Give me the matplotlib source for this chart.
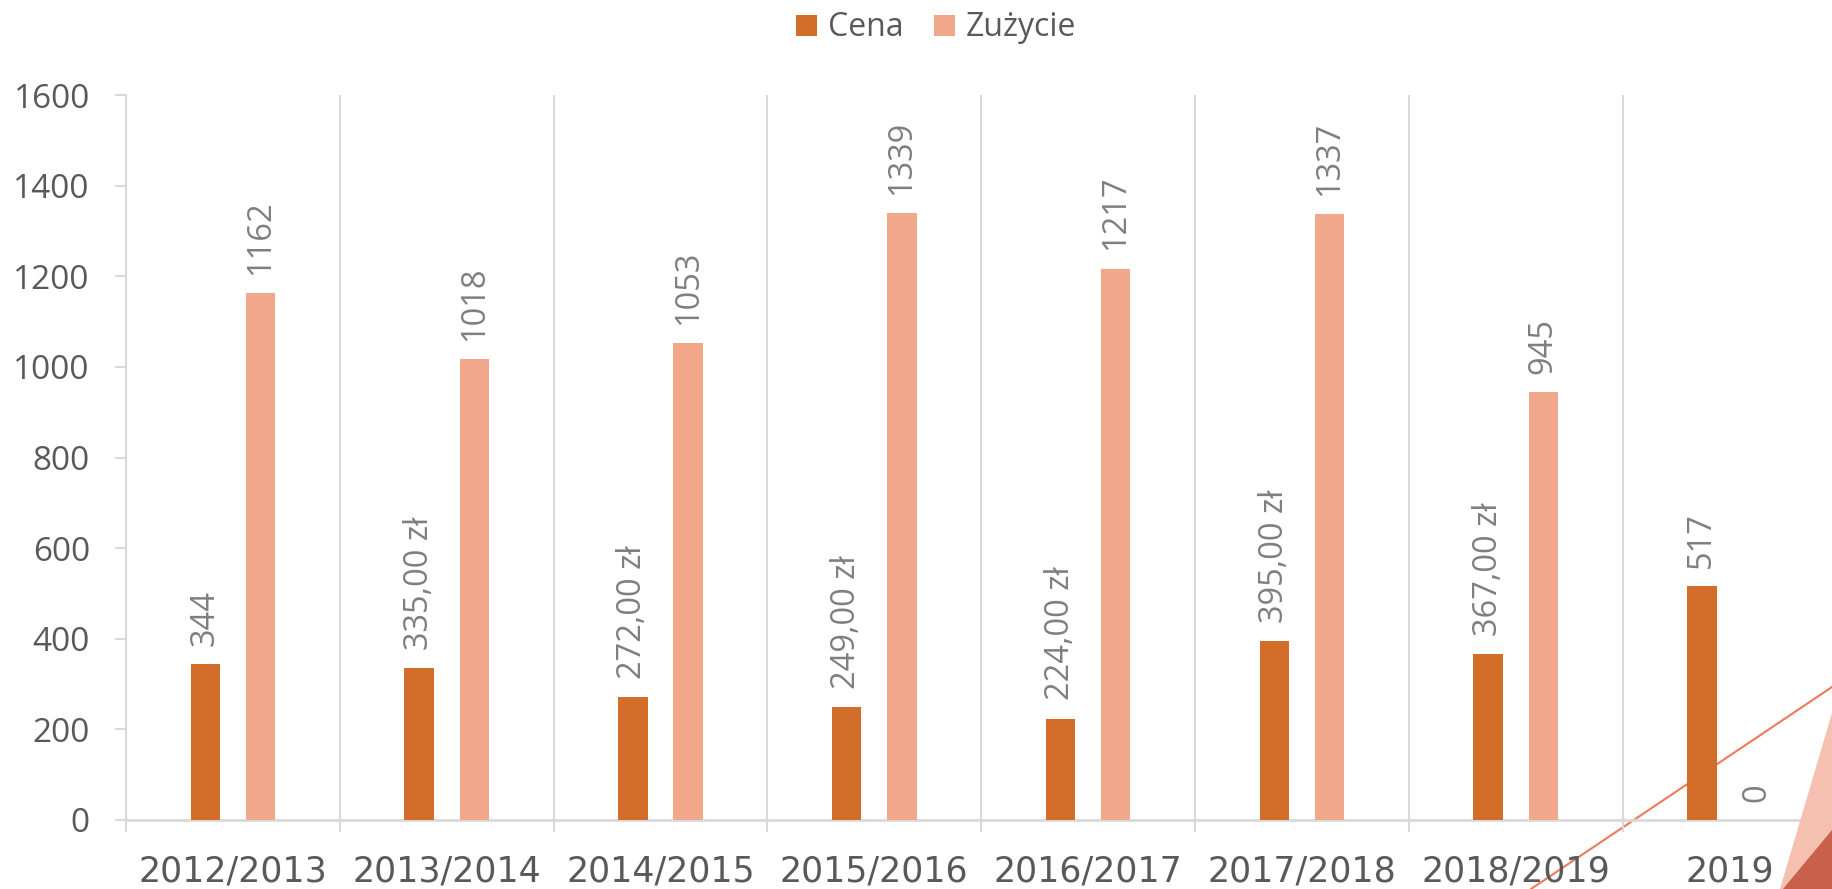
import numpy as np
import matplotlib.pyplot as plt
from matplotlib.patches import Polygon
from matplotlib.lines import Line2D

plt.rcParams['font.family'] = ['Open Sans', 'DejaVu Sans']

categories = ['2012/2013', '2013/2014', '2014/2015', '2015/2016',
              '2016/2017', '2017/2018', '2018/2019', '2019']
cena = [344, 335, 272, 249, 224, 395, 367, 517]
zuzycie = [1162, 1018, 1053, 1339, 1217, 1337, 945, 0]
cena_labels = ['344', '335,00 zł', '272,00 zł', '249,00 zł',
               '224,00 zł', '395,00 zł', '367,00 zł', '517']
yticks = [0, 200, 400, 600, 800, 1000, 1200, 1400, 1600]

c_cena = '#d26e2a'
c_zuz = '#f0a78a'
grid_c = '#d9d9d9'
text_c = '#595959'
label_c = '#7f7f7f'

W, H = 1832, 889
fig = plt.figure(figsize=(W / 100, H / 100), dpi=100)
ax = fig.add_axes([126 / W, 1 - 820 / H, 8 * 213.8 / W, (820 - 95) / H])
ax.patch.set_alpha(0)

x = np.arange(len(categories))
bw = 0.137
off = 0.129
b1 = ax.bar(x - off, cena, bw, color=c_cena, label='Cena', zorder=3)
b2 = ax.bar(x + off, zuzycie, bw, color=c_zuz, label='Zużycie', zorder=3)

for rect, txt in zip(b1, cena_labels):
    ax.annotate(txt, (rect.get_x() + rect.get_width() / 2, rect.get_height()),
                xytext=(0, 13), textcoords='offset points', rotation=90,
                ha='center', va='bottom', color=label_c, fontsize=23.5)
for rect, v in zip(b2, zuzycie):
    ax.annotate(str(v), (rect.get_x() + rect.get_width() / 2, rect.get_height()),
                xytext=(0, 13), textcoords='offset points', rotation=90,
                ha='center', va='bottom', color=label_c, fontsize=23.5)

ax.set_xlim(-0.5, len(categories) - 0.5)
ax.set_ylim(0, 1600)
ax.set_yticks(yticks)
ax.set_xticks(x)
ax.set_xticklabels(categories, family=['DejaVu Sans'])
ax.set_xticks(np.arange(len(categories) + 1) - 0.5, minor=True)

for s in ['top', 'right']:
    ax.spines[s].set_visible(False)
ax.spines['left'].set_color(grid_c)
ax.spines['left'].set_linewidth(1.5)
ax.spines['bottom'].set_color(grid_c)
ax.spines['bottom'].set_linewidth(2)

ax.tick_params(axis='y', length=8, width=1.5, color=grid_c, labelcolor=text_c,
               labelsize=24, pad=18)
ax.tick_params(axis='x', which='major', length=0, labelcolor=text_c,
               labelsize=25, pad=25)
ax.tick_params(axis='x', which='minor', length=8.6, width=1.5, color=grid_c)
ax.grid(axis='x', which='minor', color=grid_c, linewidth=1.5, zorder=0)

fig.legend(handles=[b1, b2], labels=['Cena', 'Zużycie'], loc='center',
           bbox_to_anchor=(936 / W, 1 - 28 / H), ncol=2, frameon=False,
           fontsize=23, handlelength=0.65, handleheight=0.65,
           handletextpad=0.34, columnspacing=0.97, labelcolor=text_c)

# slide decoration in the corner
fig.add_artist(Line2D([1531 / W, 1.0], [0.0, 1 - 687 / H], color='#ee7a5a',
                      linewidth=1.5, zorder=-1))
fig.add_artist(Polygon([[1.0, 1 - 713 / H], [1780 / W, 0.0], [1.0, 0.0]],
                       closed=True, facecolor='#f5c0b0', edgecolor='none',
                       transform=fig.transFigure, zorder=10))
fig.add_artist(Polygon([[1.0, 1 - 830 / H], [1783 / W, 0.0], [1.0, 0.0]],
                       closed=True, facecolor='#c9604a', edgecolor='none',
                       transform=fig.transFigure, zorder=11))

fig.savefig('out.png', dpi=100)
